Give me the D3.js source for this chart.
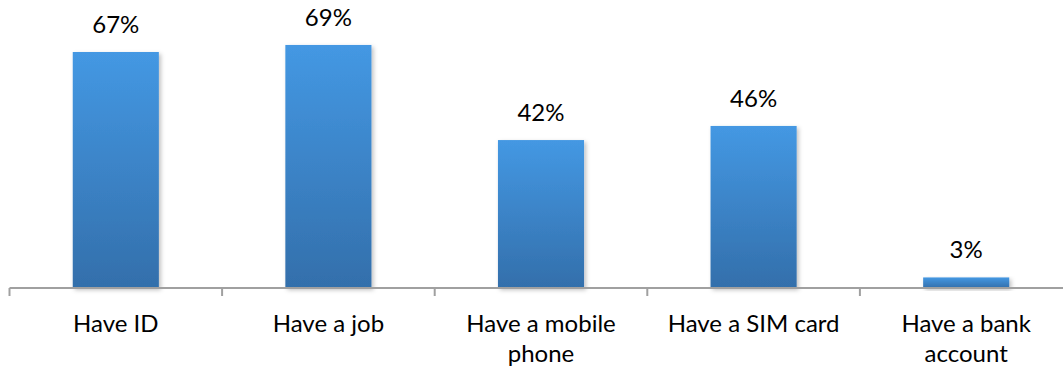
<!DOCTYPE html>
<html><head><meta charset="utf-8">
<script src="https://cdn.jsdelivr.net/npm/d3@7"></script>
<style>body{margin:0;background:#fff}svg{display:block}text{font-family:Lato,"Open Sans",sans-serif;fill:#000}</style>
</head><body><div id="chart"></div>
<script>
const categories = ["Have ID", "Have a job", "Have a mobile phone", "Have a SIM card", "Have a bank account"];
const values = [67, 69, 42, 46, 3];
const valueLabels = ["67%", "69%", "42%", "46%", "3%"];

const W = 1063, H = 371;
const svg = d3.select("#chart").append("svg").attr("width", W).attr("height", H);
const defs = svg.append("defs");
const grad = defs.append("linearGradient").attr("id","g").attr("x1",0).attr("y1",0).attr("x2",0).attr("y2",1);
grad.append("stop").attr("offset","0%").attr("stop-color","#4498e3");
grad.append("stop").attr("offset","100%").attr("stop-color","#336fab");
const f = defs.append("filter").attr("id","sh").attr("x","-10%").attr("y","-10%").attr("width","130%").attr("height","130%");
f.append("feDropShadow").attr("dx",2).attr("dy",2).attr("stdDeviation",2).attr("flood-color","#000").attr("flood-opacity",0.25);

const x = d3.scaleBand().domain(categories).range([9.5, 1072.5]).paddingInner(0.595).paddingOuter(0.2975);
const y = d3.scaleLinear().domain([0, 67]).range([288, 52]);

svg.append("g").selectAll("rect").data(categories).join("rect")
  .attr("x", d => x(d)).attr("width", x.bandwidth())
  .attr("y", (d,i) => y(values[i])).attr("height", (d,i) => y(0) - y(values[i]))
  .attr("fill","url(#g)").attr("filter","url(#sh)");

const ag = svg.append("g").attr("transform","translate(0,288)");
ag.append("line").attr("x1",9.5).attr("x2",1072.5).attr("stroke","#a0a0a0").attr("stroke-width",2);
const step = (1072.5-9.5)/categories.length;
ag.selectAll("line.t").data(d3.range(categories.length)).join("line").attr("class","t")
  .attr("x1", i => 9.5 + i*step).attr("x2", i => 9.5 + i*step)
  .attr("y1",0).attr("y2",8).attr("stroke","#a0a0a0").attr("stroke-width",2);

svg.append("g").selectAll("text").data(categories).join("text")
  .attr("x", d => x(d) + x.bandwidth()/2).attr("y", (d,i) => y(values[i]) - 19)
  .attr("text-anchor","middle").attr("font-size", 24).text((d,i) => valueLabels[i]);

const lab = svg.append("g").selectAll("text").data(categories).join("text")
  .attr("x", d => x(d) + x.bandwidth()/2).attr("y", 332)
  .attr("text-anchor","middle").attr("font-size", 24);
lab.each(function(d){
  const t = d3.select(this); const words = d.split(" ");
  let line = [];
  let ts = t.append("tspan").attr("x", x(d)+x.bandwidth()/2).attr("dy",0);
  for (const w of words) {
    line.push(w); ts.text(line.join(" "));
    if (ts.node().getComputedTextLength() > 190 && line.length > 1) {
      line.pop(); ts.text(line.join(" ")); line = [w];
      ts = t.append("tspan").attr("x", x(d)+x.bandwidth()/2).attr("dy", 30).text(w);
    }
  }
});
</script></body></html>
